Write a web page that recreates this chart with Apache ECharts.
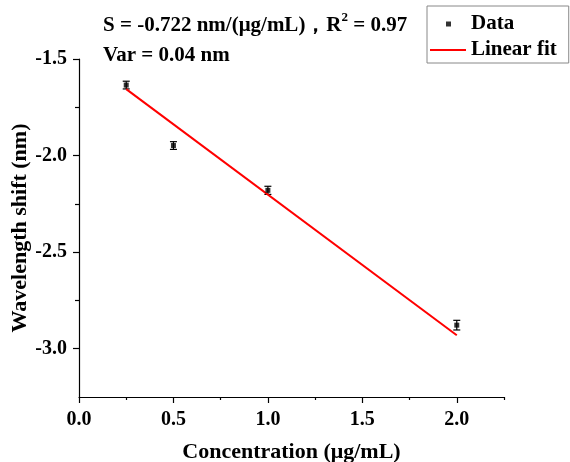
<!DOCTYPE html>
<html>
<head>
<meta charset="utf-8">
<script src="https://cdn.jsdelivr.net/npm/echarts@6/dist/echarts.min.js"></script>
<style>
  html, body { margin: 0; padding: 0; background: #fff; }
  #chart { width: 570px; height: 462px; }
</style>
</head>
<body>
<div id="chart"></div>
<script>
// measured points
const concentration = [0.25, 0.5, 1.0, 2.0]
const shift = [-1.635, -1.948, -2.18, -2.878]
const shiftErr = [0.02, 0.02, 0.021, 0.025]

// linear fit end points
const fitX = [0.25, 2.0]
const fitY = [-1.656, -2.93]

// ticks
const xMajorTicks = [0, 0.5, 1.0, 1.5, 2.0]
const xMinorTicks = [0.25, 0.75, 1.25, 1.75, 2.25]
const yMajorTicks = [-3.0, -2.5, -2.0, -1.5]
const yMinorTicks = [-2.75, -2.25, -1.75]

const font = "'Times New Roman', 'Liberation Serif', serif"
const xRange = [0, 2.25]
const yRange = [-3.25, -1.5]

const chart = echarts.init(document.getElementById('chart'))

function majorAxis(range, ticks, extra) {
  return Object.assign({
    type: 'value',
    min: range[0],
    max: range[1],
    axisLine: { show: true, lineStyle: { color: '#000', width: 1.2 } },
    axisTick: { show: true, inside: false, length: 6, customValues: ticks, lineStyle: { color: '#000', width: 1.2 } },
    splitLine: { show: false },
    nameLocation: 'middle',
    nameMoveOverlap: false,
    nameTextStyle: { color: '#000', fontFamily: font, fontWeight: 'bold', fontSize: 22 }
  }, extra)
}

function minorAxis(range, ticks, len, extra) {
  return Object.assign({
    type: 'value',
    min: range[0],
    max: range[1],
    axisLine: { show: false },
    axisTick: { show: true, length: len, customValues: ticks, lineStyle: { color: '#000', width: 1.2 } },
    axisLabel: { show: false, customValues: ticks },
    splitLine: { show: false }
  }, extra)
}

const option = {
  animation: false,
  backgroundColor: '#fff',
  title: {
    left: 103,
    top: 11,
    padding: 0,
    text: '{a|S = -0.722 nm/(μg/mL)，R}{sup|2}{a| = 0.97}\n{a|Var = 0.04 nm}',
    textStyle: {
      rich: {
        a: { color: '#000', fontFamily: font, fontWeight: 'bold', fontSize: 21, lineHeight: 30 },
        sup: { color: '#000', fontFamily: font, fontWeight: 'bold', fontSize: 13, lineHeight: 22, verticalAlign: 'top' }
      }
    }
  },
  legend: {
    left: 427,
    top: 6,
    orient: 'vertical',
    padding: [6, 12, 1, 3],
    itemGap: 2,
    itemWidth: 36,
    itemHeight: 14,
    borderColor: '#888',
    borderWidth: 1,
    textStyle: { color: '#000', fontFamily: font, fontWeight: 'bold', fontSize: 21, lineHeight: 24 },
    data: [
      { name: 'Data', icon: 'path://M0,0M36,14M16,4.5h5v5h-5z' },
      { name: 'Linear fit', icon: 'path://M0,0M36,14M0,6h36v2h-36z' }
    ]
  },
  grid: { left: 79, right: 66, top: 59, bottom: 65, outerBoundsMode: 'none', containLabel: false },
  xAxis: [
    majorAxis(xRange, xMajorTicks, {
      position: 'bottom',
      name: 'Concentration (μg/mL)',
      nameGap: 44,
      axisLabel: {
        customValues: xMajorTicks, margin: 13,
        color: '#000', fontFamily: font, fontWeight: 'bold', fontSize: 20,
        formatter: v => v.toFixed(1)
      }
    }),
    minorAxis(xRange, xMinorTicks, 3, { position: 'bottom' })
  ],
  yAxis: [
    majorAxis(yRange, yMajorTicks, {
      position: 'left',
      name: 'Wavelength shift (nm)',
      nameGap: 48,
      axisLabel: {
        customValues: yMajorTicks, margin: 12,
        color: '#000', fontFamily: font, fontWeight: 'bold', fontSize: 20,
        formatter: v => v.toFixed(1)
      }
    }),
    minorAxis(yRange, yMinorTicks, 4, { position: 'left' })
  ],
  series: [
    {
      type: 'custom',
      name: 'err',
      xAxisIndex: 0,
      yAxisIndex: 0,
      data: concentration.map((c, i) => [c, shift[i], shiftErr[i]]),
      renderItem(params, api) {
        const x = api.value(0)
        const y = api.value(1)
        const e = api.value(2)
        const top = api.coord([x, y + e])
        const bot = api.coord([x, y - e])
        const half = 3.5
        const style = { stroke: '#000', lineWidth: 1.2 }
        return {
          type: 'group',
          children: [
            { type: 'line', shape: { x1: top[0], y1: top[1], x2: bot[0], y2: bot[1] }, style },
            { type: 'line', shape: { x1: top[0] - half, y1: top[1], x2: top[0] + half, y2: top[1] }, style },
            { type: 'line', shape: { x1: bot[0] - half, y1: bot[1], x2: bot[0] + half, y2: bot[1] }, style }
          ]
        }
      },
      z: 2
    },
    {
      type: 'line',
      name: 'Linear fit',
      xAxisIndex: 0,
      yAxisIndex: 0,
      data: fitX.map((x, i) => [x, fitY[i]]),
      showSymbol: false,
      symbol: 'none',
      lineStyle: { color: '#ff0000', width: 2 },
      itemStyle: { color: '#ff0000' },
      z: 3
    },
    {
      type: 'scatter',
      name: 'Data',
      xAxisIndex: 0,
      yAxisIndex: 0,
      data: concentration.map((c, i) => [c, shift[i]]),
      symbol: 'rect',
      symbolSize: 5,
      itemStyle: { color: '#000' },
      z: 4
    }
  ]
}

chart.setOption(option)
window.addEventListener('resize', () => chart.resize())
</script>
</body>
</html>
